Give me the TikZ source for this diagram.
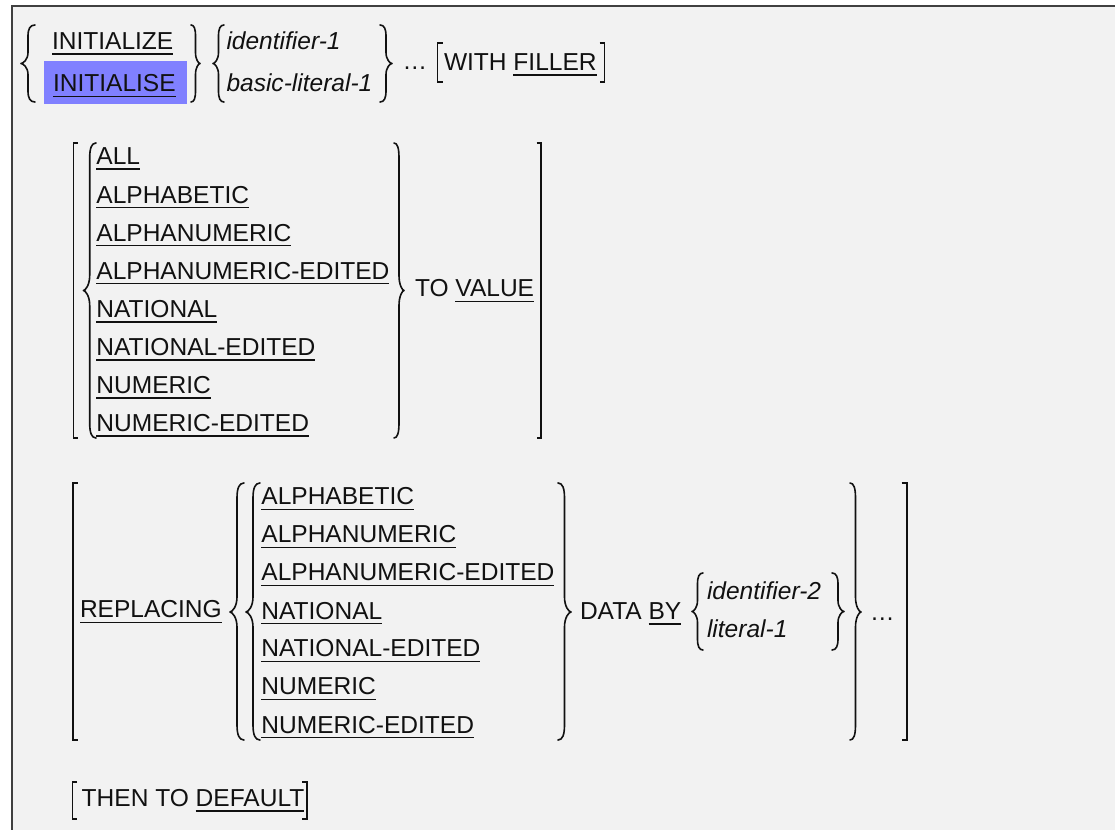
\documentclass[tikz,border=0pt]{standalone}
\usepackage{fontspec}
\setmainfont{Liberation Sans}
\newcommand\ulx[1]{\vtop{\hbox{#1}\kern2.6pt\hrule height 1.1pt}}
\definecolor{bgg}{HTML}{F2F2F2}
\definecolor{frm}{HTML}{404040}
\definecolor{hil}{HTML}{8080FF}
\definecolor{ink}{HTML}{111111}
\newcommand\brc[6]{%
 \pgfmathsetmacro\brcS{(#1+#2)/2}%
 \pgfmathsetmacro\brcE{\brcS+0.3*(#2-\brcS)}%
 \pgfmathsetmacro\brcT{#1+0.3*(\brcS-#1)}%
 \pgfmathsetmacro\brcAa{#3+0.35*#6}\pgfmathsetmacro\brcAb{#3+#6}%
 \pgfmathsetmacro\brcMa{#5-#6}\pgfmathsetmacro\brcMb{#5-0.35*#6}%
 \pgfmathsetmacro\brcMc{#5+0.35*#6}\pgfmathsetmacro\brcMd{#5+#6}%
 \pgfmathsetmacro\brcBa{#4-#6}\pgfmathsetmacro\brcBb{#4-0.35*#6}%
 \draw[brcs] (#2,#3) .. controls (\brcE,#3) and (\brcS,\brcAa) .. (\brcS,\brcAb)
   -- (\brcS,\brcMa) .. controls (\brcS,\brcMb) and (\brcT,#5) .. (#1,#5)
   .. controls (\brcT,#5) and (\brcS,\brcMc) .. (\brcS,\brcMd)
   -- (\brcS,\brcBa) .. controls (\brcS,\brcBb) and (\brcE,#4) .. (#2,#4);}
\newcommand\bkt[4]{\draw[bkts] (#2,#3) -- (#1,#3) -- (#1,#4) -- (#2,#4);}
\begin{document}
\begin{tikzpicture}[x=0.75pt,y=-0.75pt,
  txt/.style={anchor=base west,inner sep=0pt,outer sep=0pt,text=ink,
    font=\fontsize{18.4pt}{22pt}\selectfont},
  itx/.style={txt,font=\fontsize{18.4pt}{22pt}\selectfont\itshape},
  brcs/.style={draw=ink,line width=1.2pt,line cap=round,line join=round},
  bkts/.style={draw=ink,line width=1.1pt}]
\useasboundingbox (0,0) rectangle (1115,830);
\fill[white] (0,0) rectangle (1115,830);
\fill[bgg] (11.5,6.5) rectangle (1115,830);
\draw[frm,line width=1.5pt] (11.5,830) -- (11.5,6.5) -- (1115,6.5);
% block 1
\fill[hil] (44,61) rectangle (187,104);
\node[txt] (init) at (52,50) {\ulx{INITIALIZE}};
\node[txt] (inits) at (53,92) {\ulx{INITIALISE}};
\brc{21}{35}{25}{102}{63.5}{11}
\brc{200}{191}{25}{102}{63.5}{11}
\brc{213}{224}{25}{102}{63.5}{11}
\node[itx] (id1) at (226.5,50) {identifier-1};
\node[itx] (bl1) at (226.5,92) {basic-literal-1};
\brc{392}{380}{25}{102}{63.5}{11}
\node[txt] (dots1) at (402.5,70) {…};
\bkt{437.5}{442.5}{43}{82}
\node[txt] (filler) at (444,71) {WITH \ulx{FILLER}};
\bkt{604.5}{599.5}{43}{82}
% block 2
\bkt{73.5}{77.5}{143}{438}
\brc{83.4}{96}{143}{438}{290.5}{15}
\foreach \t [count=\i from 0] in {ALL,ALPHABETIC,ALPHANUMERIC,ALPHANUMERIC-EDITED,NATIONAL,NATIONAL-EDITED,NUMERIC,NUMERIC-EDITED}
  \node[txt] (a\i) at (96.4,{165+38.1*\i}) {\ulx{\t}};
\brc{404}{394}{143}{438}{290.5}{15}
\node[txt] (tovalue) at (415,297) {TO \ulx{VALUE}};
\bkt{541}{536.5}{143}{438}
% block 3
\bkt{73}{77.5}{483}{740}
\node[txt] (repl) at (80,618) {\ulx{REPLACING}};
\brc{230}{244}{483}{740}{612}{15}
\brc{246}{260}{483}{740}{612}{15}
\foreach \t [count=\i from 0] in {ALPHABETIC,ALPHANUMERIC,ALPHANUMERIC-EDITED,NATIONAL,NATIONAL-EDITED,NUMERIC,NUMERIC-EDITED}
  \node[txt] (b\i) at (261.4,{505+38*\i}) {\ulx{\t}};
\brc{571}{558}{483}{740}{612}{15}
\node[txt] (databy) at (580,620) {DATA \ulx{BY}};
\brc{692}{703}{573}{650}{611.5}{11}
\node[itx] (id2) at (707,600) {identifier-2};
\node[itx] (lit1) at (707,638) {literal-1};
\brc{844}{832}{573}{650}{611.5}{11}
\brc{861}{850}{483}{740}{612}{15}
\node[txt] (dots2) at (870,621) {…};
\bkt{907}{901.5}{483}{740}
% block 4
\bkt{72.5}{77}{782}{819}
\node[txt] (dflt) at (81.7,806.7) {THEN TO \ulx{DEFAULT}};
\bkt{307}{302}{782}{819}
\end{tikzpicture}
\end{document}
